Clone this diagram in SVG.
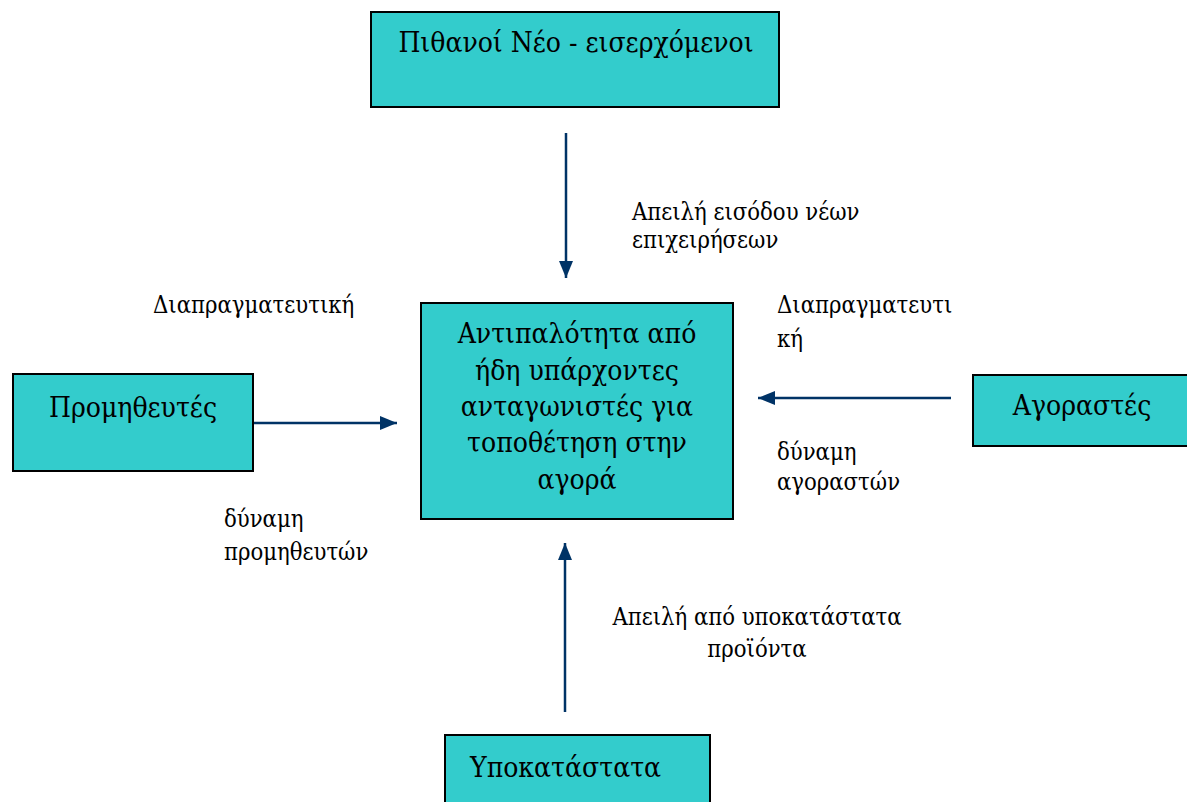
<svg xmlns="http://www.w3.org/2000/svg" width="1187" height="802" viewBox="0 0 1187 802">
<style>
.node{fill:#33CCCC;stroke:#000;stroke-width:2}
.t{font-family:"DejaVu Serif Condensed","DejaVu Serif",serif;fill:#000}
.big{font-size:28px}
.small{font-size:23.6px}
.lab{fill:#fff}
.conn{stroke:#003366;stroke-width:2.5;fill:none}
</style>
<defs>
<marker id="ah" markerUnits="userSpaceOnUse" markerWidth="18" markerHeight="14" viewBox="0 0 18 14" refX="17" refY="7" orient="auto">
<path d="M0,0 L17,7 L0,14 z" fill="#003366"/>
</marker>
</defs>
<rect x="0" y="0" width="1187" height="802" fill="#fff"/>

<g id="labels">
<rect class="lab" x="612" y="182" width="268" height="96"/>
<text class="t small" x="632" y="220">Απειλή εισόδου νέων</text>
<text class="t small" x="632" y="248">επιχειρήσεων</text>
<rect class="lab" x="133" y="278" width="264" height="72"/>
<rect class="lab" x="275" y="350" width="122" height="23"/>
<text class="t small" x="153" y="313">Διαπραγματευτική</text>
<rect class="lab" x="205" y="495" width="190" height="95"/>
<text class="t small" x="224" y="527">δύναμη</text>
<text class="t small" x="224" y="560">προμηθευτών</text>
<rect class="lab" x="757" y="282" width="216" height="92"/>
<text class="t small" x="777" y="313">Διαπραγματευτι</text>
<text class="t small" x="777" y="347">κή</text>
<rect class="lab" x="757" y="422" width="194" height="145"/>
<text class="t small" x="777" y="460">δύναμη</text>
<text class="t small" x="777" y="490">αγοραστών</text>
<rect class="lab" x="588" y="590" width="337" height="122"/>
<text class="t small" x="757" y="625" text-anchor="middle">Απειλή από υποκατάστατα</text>
<text class="t small" x="757" y="657" text-anchor="middle">προϊόντα</text>
</g>

<g id="connectors">
<line class="conn" x1="566" y1="133" x2="566" y2="278" marker-end="url(#ah)"/>
<line class="conn" x1="253" y1="423" x2="397" y2="423" marker-end="url(#ah)"/>
<line class="conn" x1="951" y1="398" x2="758" y2="398" marker-end="url(#ah)"/>
<line class="conn" x1="565" y1="712" x2="565" y2="543" marker-end="url(#ah)"/>
</g>

<g id="node-new-entrants">
<rect class="node" x="371" y="12" width="408" height="95"/>
<text class="t big" x="576" y="52" text-anchor="middle">Πιθανοί Νέο - εισερχόμενοι</text>
</g>

<g id="node-rivalry">
<rect class="node" x="421" y="303" width="312" height="216"/>
<text class="t big" x="577" y="343" text-anchor="middle">Αντιπαλότητα από</text>
<text class="t big" x="577" y="380" text-anchor="middle">ήδη υπάρχοντες</text>
<text class="t big" x="577" y="416" text-anchor="middle">ανταγωνιστές για</text>
<text class="t big" x="577" y="452" text-anchor="middle">τοποθέτηση στην</text>
<text class="t big" x="577" y="489" text-anchor="middle">αγορά</text>
</g>

<g id="node-suppliers">
<rect class="node" x="13" y="374" width="240" height="97"/>
<text class="t big" x="133" y="417" text-anchor="middle">Προμηθευτές</text>
</g>

<g id="node-buyers">
<rect class="node" x="973" y="375" width="218" height="71"/>
<text class="t big" x="1082" y="415" text-anchor="middle">Αγοραστές</text>
</g>

<g id="node-substitutes">
<rect class="node" x="445" y="735" width="265" height="80"/>
<text class="t big" x="470" y="777">Υποκατάστατα</text>
</g>
</svg>
